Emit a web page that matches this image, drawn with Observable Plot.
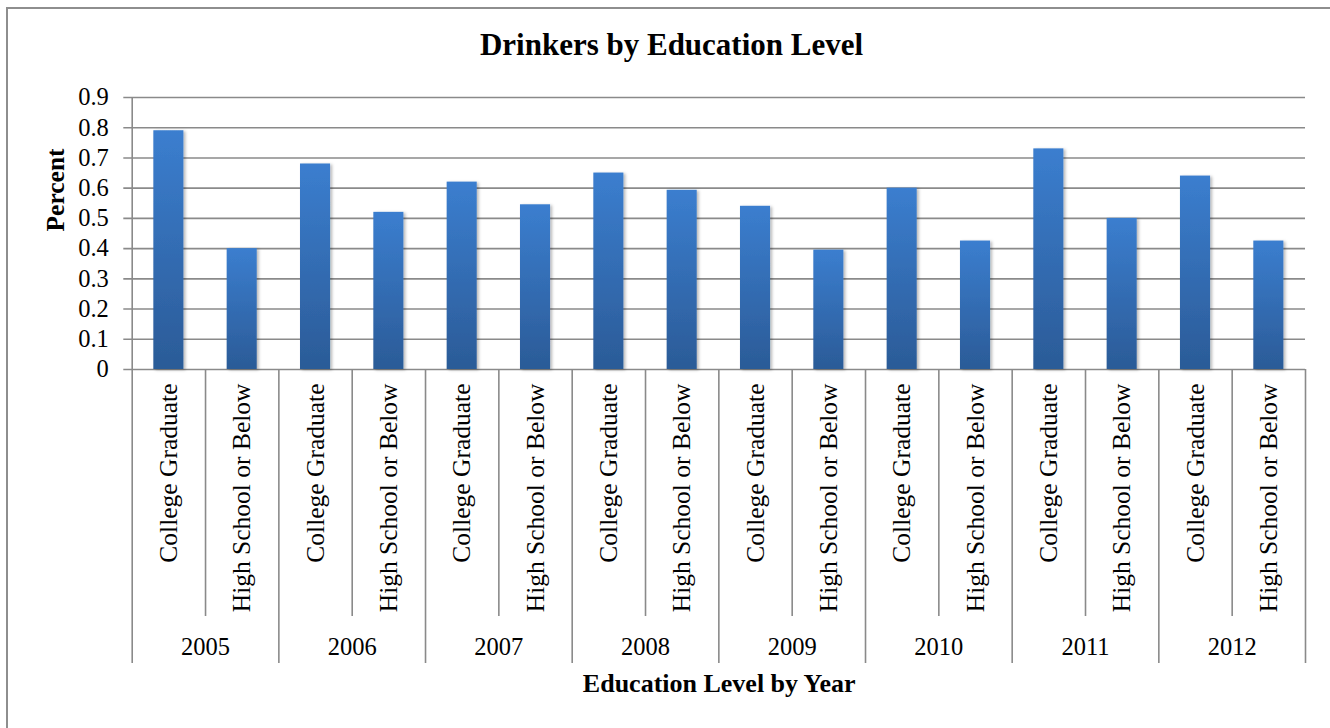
<!DOCTYPE html>
<html>
<head>
<meta charset="utf-8">
<script src="https://cdn.jsdelivr.net/npm/d3@7"></script>
<script src="https://cdn.jsdelivr.net/npm/@observablehq/plot@0.6"></script>
<style>
  html, body { margin: 0; padding: 0; background: #fff; overflow: hidden; }
  #wrap { position: relative; width: 1330px; height: 728px; }
  #border { position: absolute; left: 6px; top: 7px; width: 1400px; height: 800px;
            border: 2px solid #8e8e8e; box-sizing: border-box; pointer-events: none; }
  #chart svg { display: block; }
  #chart svg text { font-family: "Liberation Serif", "Times New Roman", Times, serif; }
</style>
</head>
<body>
<div id="wrap"><div id="chart"></div><div id="border"></div></div>
<script>
const years = ["2005", "2006", "2007", "2008", "2009", "2010", "2011", "2012"];
const levels = ["College Graduate", "High School or Below"];
const collegeGraduate = [0.79, 0.68, 0.62, 0.65, 0.54, 0.60, 0.73, 0.64];
const highSchoolOrBelow = [0.40, 0.52, 0.545, 0.593, 0.395, 0.425, 0.50, 0.425];
const yTicks = [0, 0.1, 0.2, 0.3, 0.4, 0.5, 0.6, 0.7, 0.8, 0.9];
const titleText = "Drinkers by Education Level";
const xTitle = "Education Level by Year";
const yTitle = "Percent";

const data = [];
years.forEach((yr, i) => {
  data.push({year: yr, level: levels[0], key: yr + "|" + levels[0], value: collegeGraduate[i]});
  data.push({year: yr, level: levels[1], key: yr + "|" + levels[1], value: highSchoolOrBelow[i]});
});
const keys = data.map(d => d.key);
const cgKeys = data.filter(d => d.level === levels[0]).map(d => d.key);
const hsKeys = data.filter(d => d.level === levels[1]).map(d => d.key);

const W = 1330, H = 728;
const mL = 123.3, mR = 25, mT = 97, mB = 65;
const inL = 8.4, inB = 294;
const step = (W - mL - mR - inL) / keys.length;
const grid = "#8a8a8a";
const font = "Liberation Serif";

const chart = Plot.plot({
  width: W, height: H,
  marginLeft: mL, marginRight: mR, marginTop: mT, marginBottom: mB,
  style: {fontFamily: font, color: "#000", background: "transparent"},
  x: {type: "band", domain: keys, paddingInner: 0.59, paddingOuter: 0.295, align: 0.5, round: false, insetLeft: inL, axis: null},
  y: {domain: [0, 0.9], insetBottom: inB, axis: null},
  marks: [
    Plot.ruleY(yTicks, {stroke: grid, strokeWidth: 1.6}),
    Plot.barY(data, {x: "key", y: "value", fill: "url(#barGrad)"}),
    // y-axis line
    Plot.ruleX([keys[0]], {dx: -step / 2, stroke: grid, strokeWidth: 1.6}),
    // inner separators
    Plot.ruleX(hsKeys, {dx: -step / 2, stroke: grid, strokeWidth: 1.6, insetTop: inB - 22, insetBottom: 47}),
    // year separators
    Plot.ruleX(cgKeys.slice(1), {dx: -step / 2, stroke: grid, strokeWidth: 1.6, insetTop: inB - 22}),
    Plot.ruleX([keys[keys.length - 1]], {dx: step / 2, stroke: grid, strokeWidth: 1.6, insetTop: inB - 22}),
    // y tick labels
    Plot.text(yTicks, {y: d => d, text: d => d === 0 ? "0" : d.toFixed(1), frameAnchor: "left",
      textAnchor: "end", dx: -15, fontSize: 24.5, fontFamily: font, fill: "#000"}),
    // category labels
    Plot.text(data, {x: "key", text: "level", frameAnchor: "bottom", dy: 383 - 663, rotate: -90,
      textAnchor: "end", lineAnchor: "middle", fontSize: 25.5, fontFamily: font, fill: "#000"}),
    // year labels
    Plot.text(years.map((y, i) => ({year: y, key: cgKeys[i]})), {x: "key", text: "year", dx: step / 2,
      frameAnchor: "bottom", dy: -16, lineAnchor: "middle", fontSize: 24.5, fontFamily: font, fill: "#000"}),
    // titles
    Plot.text([titleText], {frameAnchor: "top", dx: 671 - (mL + (W - mR)) / 2, dy: 45 - mT,
      lineAnchor: "middle", fontSize: 31, fontWeight: "bold", fontFamily: font, fill: "#000"}),
    Plot.text([xTitle], {frameAnchor: "bottom", dx: 718.7 - (mL + (W - mR)) / 2, dy: 20.5,
      lineAnchor: "middle", fontSize: 26, fontWeight: "bold", fontFamily: font, fill: "#000"}),
    Plot.text([yTitle], {frameAnchor: "left", dx: 55 - mL, dy: 231 - (mT + (H - mB)) / 2, rotate: -90,
      lineAnchor: "middle", fontSize: 25.5, fontWeight: "bold", fontFamily: font, fill: "#000"})
  ]
});

const svg = d3.select(chart);
const defs = svg.insert("defs", ":first-child");
const g = defs.append("linearGradient").attr("id", "barGrad")
  .attr("x1", 0).attr("y1", 0).attr("x2", 0).attr("y2", 1);
g.append("stop").attr("offset", "0%").attr("stop-color", "#3b7ecf");
g.append("stop").attr("offset", "100%").attr("stop-color", "#2b5b97");
const f = defs.append("filter").attr("id", "shadow").attr("x", "-20%").attr("y", "-5%")
  .attr("width", "150%").attr("height", "115%");
f.append("feDropShadow").attr("dx", 2).attr("dy", 1).attr("stdDeviation", 1.8)
  .attr("flood-color", "#000").attr("flood-opacity", 0.28);
svg.selectAll('g[aria-label="bar"]').attr("filter", "url(#shadow)");

document.getElementById("chart").appendChild(chart);
</script>
</body>
</html>
